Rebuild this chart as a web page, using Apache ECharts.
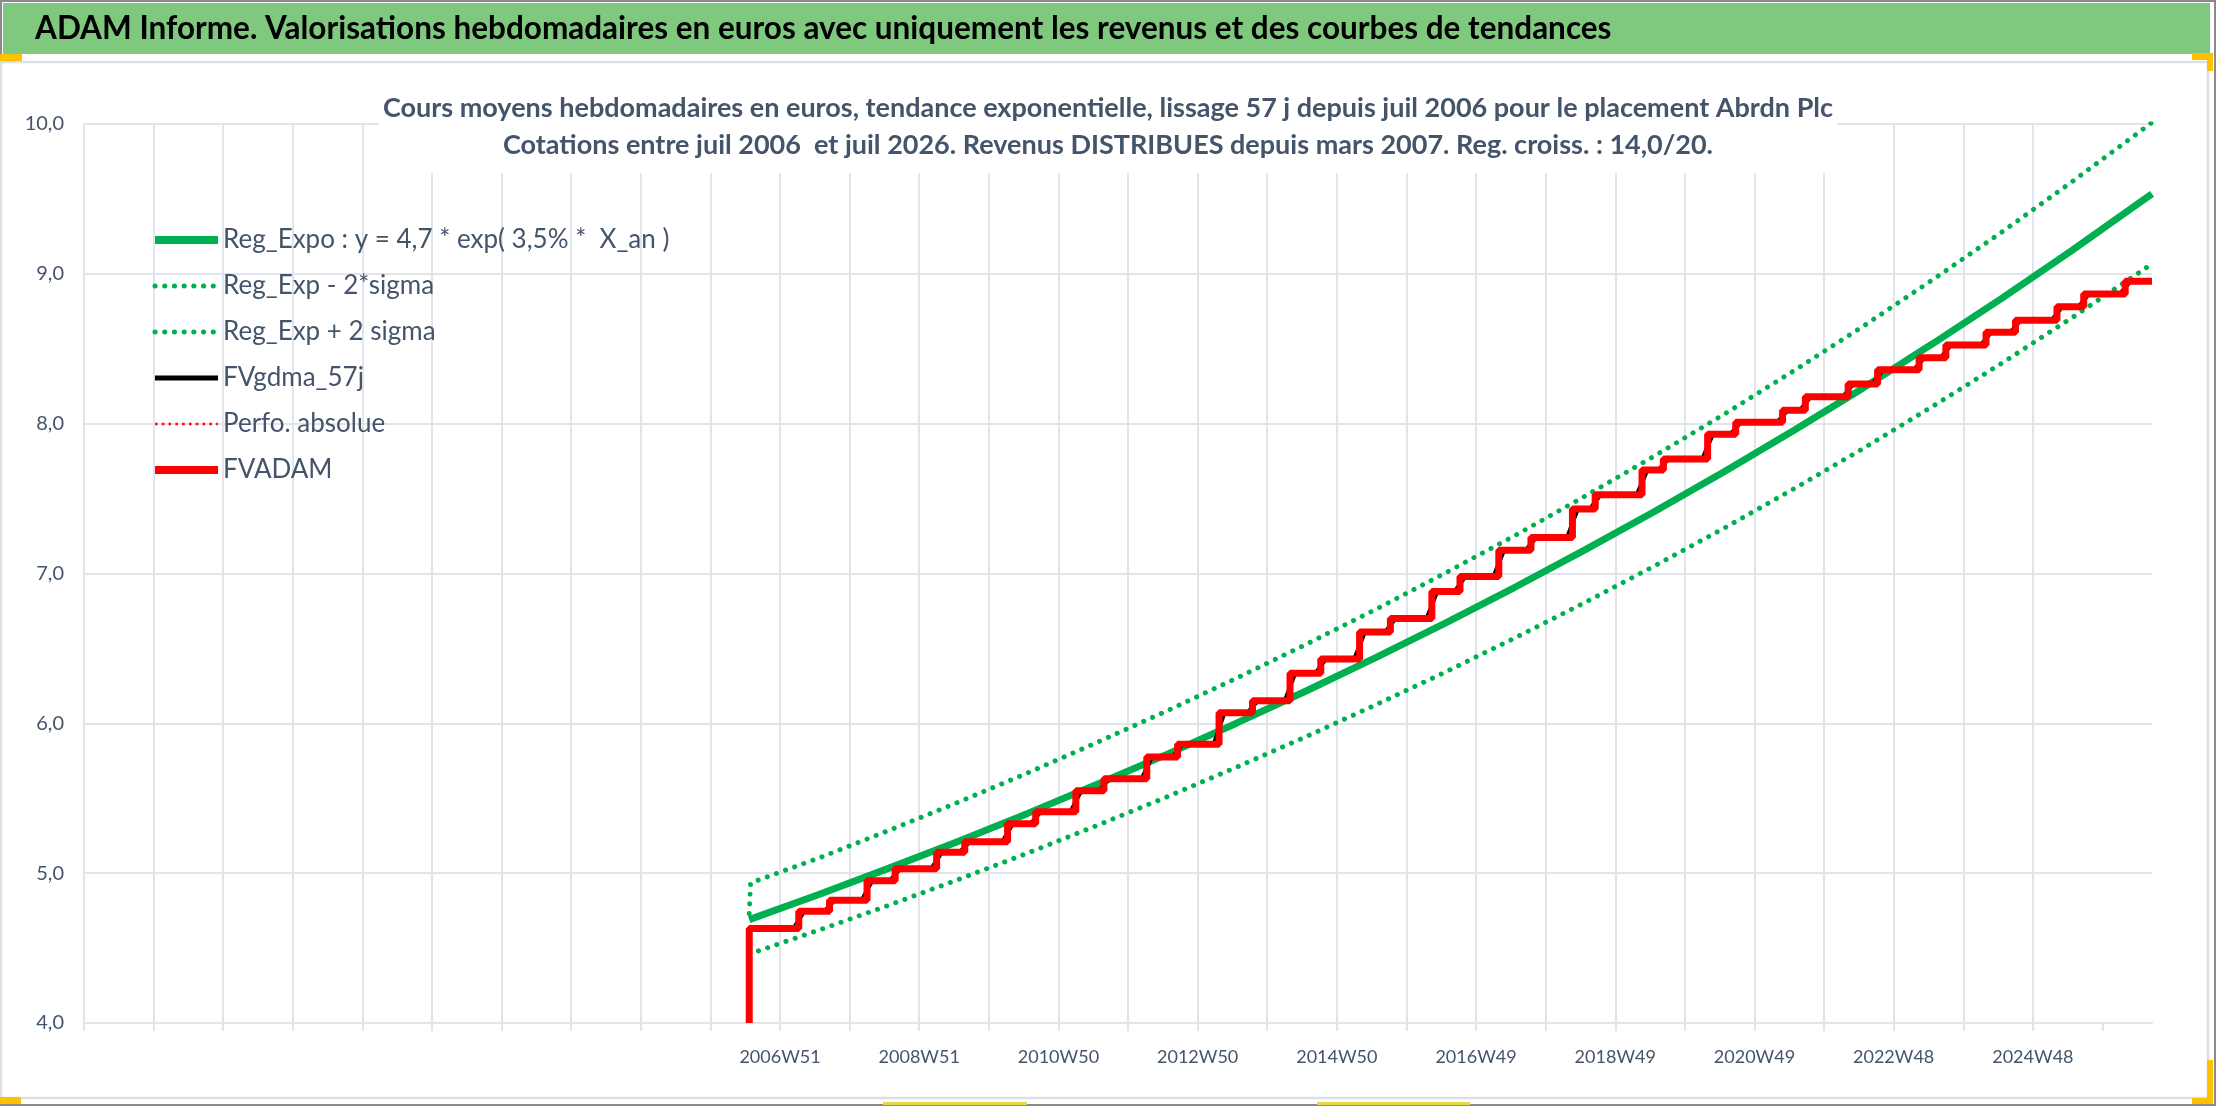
<!DOCTYPE html>
<html>
<head>
<meta charset="utf-8">
<title>ADAM Informe - Abrdn Plc</title>
<script src="https://cdn.jsdelivr.net/npm/echarts@6/dist/echarts.min.js"></script>
<style>
  html, body { margin: 0; padding: 0; background: #fff; }
  #chart { width: 2216px; height: 1106px; }
</style>
</head>
<body>
<div id="chart"></div>
<script>
// axe x en semaines (0 = debut de l'axe, une graduation toutes les 52 semaines)
var xTickLabels = ['2006W51', '2008W51', '2010W50', '2012W50', '2014W50',
                   '2016W49', '2018W49', '2020W49', '2022W48', '2024W48'];
var firstLabelTick = 10;

// courbes de tendance, lues une fois par an
var trendWeeks = [497, 549, 601, 653, 705, 757, 809, 861, 913, 965, 1017,
                  1069, 1121, 1173, 1225, 1277, 1329, 1381, 1433, 1485, 1537, 1545];
var regExpo = [4.690, 4.858, 5.032, 5.212, 5.399, 5.593, 5.793, 6.001, 6.216, 6.438, 6.669,
               6.908, 7.156, 7.412, 7.677, 7.953, 8.237, 8.533, 8.838, 9.155, 9.483, 9.534];
var regLow = [4.460, 4.620, 4.785, 4.957, 5.134, 5.319, 5.509, 5.707, 5.911, 6.123, 6.342,
              6.570, 6.805, 7.049, 7.301, 7.563, 7.833, 8.115, 8.405, 8.706, 9.018, 9.067];
var highWeeks = [497, 498, 549, 601, 653, 705, 757, 809, 861, 913, 965, 1017,
                 1069, 1121, 1173, 1225, 1277, 1329, 1381, 1433, 1485, 1537, 1545];
var regHigh = [4.73, 4.935, 5.101, 5.284, 5.473, 5.669, 5.873, 6.083, 6.301, 6.527, 6.760, 7.003,
               7.253, 7.514, 7.783, 8.061, 8.351, 8.649, 8.960, 9.280, 9.613, 9.957, 10.01];

// FVADAM : paliers (semaine du versement, niveau apres versement)
var stepWeeks = [497, 534, 557, 585, 606, 637, 658, 690, 711, 741, 762, 794, 817, 848,
                 873, 901, 924, 953, 976, 1007, 1028, 1057, 1081, 1112, 1129, 1164, 1180,
                 1213, 1234, 1269, 1286, 1318, 1340, 1371, 1391, 1421, 1443, 1474, 1494, 1525];
var stepLevels = [4.63, 4.745, 4.82, 4.95, 5.03, 5.14, 5.21, 5.33, 5.41, 5.55, 5.63, 5.775,
                  5.86, 6.07, 6.15, 6.335, 6.43, 6.61, 6.70, 6.88, 6.98, 7.155, 7.24, 7.43,
                  7.525, 7.69, 7.765, 7.93, 8.01, 8.09, 8.18, 8.265, 8.36, 8.44, 8.525, 8.61,
                  8.69, 8.78, 8.865, 8.95];
var startLevel = 4.0;
var lastWeek = 1545;
var smoothHalf = 4; // lissage 57 j ~ 8 semaines

var legendNames = ['Reg_Expo : y = 4,7 * exp( 3,5% *  X_an )', 'Reg_Exp - 2*sigma', 'Reg_Exp + 2 sigma',
                   'FVgdma_57j', 'Perfo. absolue', 'FVADAM'];

var FONT = 'Lato, sans-serif';
var TXT = '#44546a';
var GRID = '#e1e4ea';
var GREEN = '#00b050';
var RED = '#ff0000';

var redData = [[stepWeeks[0], startLevel]];
for (var i = 0; i < stepWeeks.length; i++) {
  redData.push([stepWeeks[i], stepLevels[i]]);
}
redData.push([lastWeek, stepLevels[stepLevels.length - 1]]);

var blackData = [[stepWeeks[0], stepLevels[0]]];
for (var j = 1; j < stepWeeks.length; j++) {
  blackData.push([stepWeeks[j] - smoothHalf, stepLevels[j - 1]]);
  blackData.push([stepWeeks[j] + smoothHalf, stepLevels[j]]);
}
blackData.push([lastWeek, stepLevels[stepLevels.length - 1]]);

function pairs(xs, ys) {
  return xs.map(function (x, k) { return [x, ys[k]]; });
}

var tickValues = [];
for (var t = 0; t <= lastWeek; t += 52) tickValues.push(t);

var dotted = [0.1, 9.6];
var legendWidths = [8, 5, 5, 5, 2.5, 8];

var chart = echarts.init(document.getElementById('chart'));
var option = {
  animation: false,
  backgroundColor: '#fff',
  graphic: [
    { type: 'rect', shape: { x: 0, y: 0, width: 2216, height: 1106 },
      style: { fill: 'none', stroke: '#8a8a8a', lineWidth: 4 } },
    { type: 'rect', shape: { x: 3, y: 3, width: 2207, height: 51 },
      style: { fill: '#7fc97f' } },
    { type: 'rect', shape: { x: 1, y: 62, width: 2207, height: 1036 },
      style: { fill: 'none', stroke: '#dcdfe4', lineWidth: 2.5 } },
    { type: 'rect', shape: { x: 0, y: 54, width: 22, height: 7 }, style: { fill: '#ffc000' } },
    { type: 'rect', shape: { x: 2192, y: 53, width: 21, height: 7 }, style: { fill: '#ffc000' } },
    { type: 'rect', shape: { x: 2207, y: 53, width: 6, height: 18 }, style: { fill: '#ffc000' } },
    { type: 'rect', shape: { x: 2207, y: 1060, width: 6, height: 43 }, style: { fill: '#ffc000' } },
    { type: 'rect', shape: { x: 2192, y: 1098, width: 21, height: 6 }, style: { fill: '#ffc000' } },
    { type: 'rect', shape: { x: 0, y: 1097, width: 21, height: 7 }, style: { fill: '#ffc000' } },
    { type: 'rect', shape: { x: 883, y: 1102, width: 144, height: 3 }, style: { fill: '#e6d84a' } },
    { type: 'rect', shape: { x: 1317, y: 1102, width: 153, height: 3 }, style: { fill: '#e6d84a' } }
  ],
  title: [
    {
      text: 'ADAM Informe. Valorisations hebdomadaires en euros avec uniquement les revenus et des courbes de tendances',
      left: 35, top: 9, padding: 0,
      textStyle: { fontFamily: FONT, fontSize: 31.5, fontWeight: 'bold', color: '#000', lineHeight: 40 }
    },
    {
      text: 'Cours moyens hebdomadaires en euros, tendance exponentielle, lissage 57 j depuis juil 2006 pour le placement Abrdn Plc\n' +
            'Cotations entre juil 2006  et juil 2026. Revenus DISTRIBUES depuis mars 2007. Reg. croiss. : 14,0/20.',
      left: 'center', top: 76, padding: [14, 4, 9, 4],
      backgroundColor: '#fff',
      textStyle: { fontFamily: FONT, fontSize: 27, fontWeight: 'bold', color: TXT, lineHeight: 37, align: 'center' }
    }
  ],
  legend: {
    orient: 'vertical',
    left: 151, top: 225, padding: 0,
    itemWidth: 63, itemHeight: 14, itemGap: 16,
    textStyle: { fontFamily: FONT, fontSize: 26, color: TXT, lineHeight: 30 },
    data: legendNames.map(function (n, k) {
      return { name: n, itemStyle: { opacity: 0 }, lineStyle: { width: legendWidths[k] } };
    })
  },
  grid: { left: 84, right: 64, top: 124, bottom: 83 },
  xAxis: {
    type: 'value', min: 0, max: lastWeek, interval: 52,
    axisLine: { show: true, lineStyle: { color: GRID, width: 2 } },
    axisTick: { show: true, length: 8, customValues: tickValues, lineStyle: { color: GRID, width: 2 } },
    splitLine: { show: true, showMaxLine: false, lineStyle: { color: GRID, width: 2 } },
    axisLabel: {
      fontFamily: FONT, fontSize: 18, color: TXT, margin: 25, showMaxLabel: false,
      formatter: function (v) {
        var k = Math.round(v / 52);
        if (v % 52 !== 0 || k < firstLabelTick || (k - firstLabelTick) % 2) return '';
        return xTickLabels[(k - firstLabelTick) / 2] || '';
      }
    }
  },
  yAxis: {
    type: 'value', min: 4, max: 10, interval: 1,
    axisLine: { show: false }, axisTick: { show: false },
    splitLine: { show: true, lineStyle: { color: GRID, width: 2 } },
    axisLabel: {
      fontFamily: FONT, fontSize: 20, color: TXT, margin: 20,
      formatter: function (v) { return v.toFixed(1).replace('.', ','); }
    }
  },
  series: [
    {
      name: legendNames[0], type: 'line', symbol: 'none',
      data: pairs(trendWeeks, regExpo),
      lineStyle: { color: GREEN, width: 7 }, itemStyle: { color: GREEN }
    },
    {
      name: legendNames[1], type: 'line', symbol: 'none',
      data: pairs(trendWeeks, regLow),
      lineStyle: { color: GREEN, width: 5, type: dotted, cap: 'round' },
      itemStyle: { color: GREEN }
    },
    {
      name: legendNames[2], type: 'line', symbol: 'none',
      data: pairs(highWeeks, regHigh),
      lineStyle: { color: GREEN, width: 5, type: dotted, cap: 'round' },
      itemStyle: { color: GREEN }
    },
    {
      name: legendNames[3], type: 'line', symbol: 'none',
      data: blackData,
      lineStyle: { color: '#000', width: 4 }, itemStyle: { color: '#000' }
    },
    {
      name: legendNames[4], type: 'line', symbol: 'none',
      data: [],
      lineStyle: { color: RED, width: 2.5, type: [2.5, 4.3] }, itemStyle: { color: RED }
    },
    {
      name: legendNames[5], type: 'line', symbol: 'none', step: 'end',
      data: redData,
      lineStyle: { color: RED, width: 7 }, itemStyle: { color: RED }
    }
  ]
};
chart.setOption(option);
</script>
</body>
</html>
